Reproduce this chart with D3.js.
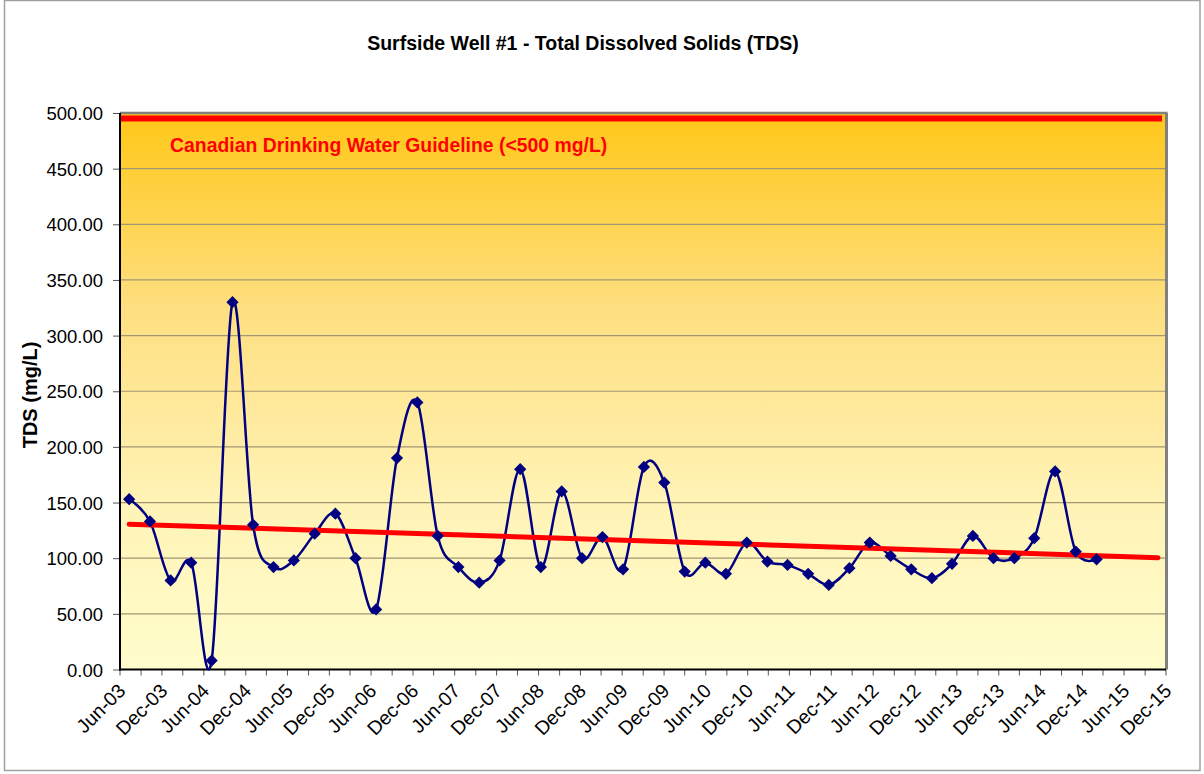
<!DOCTYPE html>
<meta charset="utf-8">
<title>Surfside Well #1 - TDS</title>
<style>
body { margin: 0; background: #fff; }
text { font-family: "Liberation Sans", Arial, sans-serif; }
</style>
<body>
<svg width="1204" height="774" id="svg"></svg>
<script src="https://d3js.org/d3.v7.min.js"></script>
<script>

// sample dates and TDS values (mg/L)
var sampleDates = [
  "2003-07-11", "2003-10-10", "2004-01-08", "2004-04-07", "2004-07-05", "2004-10-04",
  "2005-01-02", "2005-04-01", "2005-06-29", "2005-09-28", "2005-12-27", "2006-03-25",
  "2006-06-23", "2006-09-22", "2006-12-20", "2007-03-19", "2007-06-17", "2007-09-16",
  "2007-12-14", "2008-03-13", "2008-06-11", "2008-09-10", "2008-12-08", "2009-03-07",
  "2009-06-05", "2009-09-04", "2009-12-02", "2010-03-01", "2010-05-30", "2010-08-28",
  "2010-11-27", "2011-02-25", "2011-05-24", "2011-08-22", "2011-11-20", "2012-02-18",
  "2012-05-17", "2012-08-16", "2012-11-14", "2013-02-12", "2013-05-11", "2013-08-10",
  "2013-11-08", "2014-02-07", "2014-05-05", "2014-08-04", "2014-11-02", "2015-02-01"
];
var tdsValues = [
  153, 133, 80, 96, 8, 330,
  130, 92, 98, 122, 140, 100,
  54, 190, 240, 120, 92, 78,
  98, 180, 92, 160, 100, 119,
  90, 182, 168, 88, 96, 86,
  114, 97, 94, 86, 76, 91,
  114, 102, 90, 82, 95, 120,
  100, 100, 118, 178, 106, 99
];

// linear trend line (start / end)
var trendDates = ["2003-07-11", "2015-10-27"];
var trendValues = [130.5, 100.5];

var guidelineValue = 495;
var guidelineLabel = "Canadian Drinking Water Guideline (<500 mg/L)";
var yTicks = [0, 50, 100, 150, 200, 250, 300, 350, 400, 450, 500];

var parse = d3.timeParse("%Y-%m-%d");
var data = sampleDates.map(function(d, i) { return { date: parse(d), value: tdsValues[i] }; });
var trend = trendDates.map(function(d, i) { return { date: parse(d), value: trendValues[i] }; });

var svg = d3.select("svg"),
    plotL = 120, plotR = 1166, plotT = 113, plotB = 669.5;

var x = d3.scaleTime()
    .domain([new Date(2003, 5, 1), new Date(2015, 11, 1)])
    .range([plotL, plotR]);
var y = d3.scaleLinear().domain([0, 500]).range([plotB, plotT]);

// outer chart frame
svg.append("rect")
    .attr("x", 4.5).attr("y", 0.5)
    .attr("width", 1195.5).attr("height", 770)
    .attr("fill", "#fff").attr("stroke", "#a0a0a0").attr("stroke-width", 1.5);

// plot background gradient
var grad = svg.append("defs").append("linearGradient")
    .attr("id", "bg").attr("x1", 0).attr("y1", 0).attr("x2", 0).attr("y2", 1);
grad.append("stop").attr("offset", "0%").attr("stop-color", "#FFC717");
grad.append("stop").attr("offset", "35%").attr("stop-color", "#FEDF80");
grad.append("stop").attr("offset", "70%").attr("stop-color", "#FFF3B6");
grad.append("stop").attr("offset", "100%").attr("stop-color", "#FFFDCC");

svg.append("rect")
    .attr("x", plotL).attr("y", plotT)
    .attr("width", plotR - plotL).attr("height", plotB - plotT)
    .attr("fill", "url(#bg)");

// gridlines
svg.append("g").selectAll("line")
    .data(yTicks.slice(1, -1))
    .enter().append("line")
      .attr("x1", plotL).attr("x2", plotR)
      .attr("y1", function(d) { return y(d); })
      .attr("y2", function(d) { return y(d); })
      .attr("stroke", "#a39673").attr("stroke-width", 1.2);

// y axis
var yAxis = svg.append("g")
    .attr("transform", "translate(" + plotL + ",0)")
    .call(d3.axisLeft(y).tickValues(yTicks).tickFormat(d3.format(".2f")).tickSize(7).tickPadding(10));
yAxis.select(".domain").remove();
yAxis.selectAll("line").attr("stroke", "#555");
yAxis.selectAll("text").attr("font-size", 18.5).attr("fill", "#000").attr("dy", "0.36em");

// x axis: minor ticks every 3 months, labels every 6
var tickDates = d3.timeMonth.range(x.domain()[0], d3.timeMonth.offset(x.domain()[1], 1), 3);
var labelDates = d3.timeMonth.range(x.domain()[0], d3.timeMonth.offset(x.domain()[1], 1), 6);
var fmt = d3.timeFormat("%b-%y");

svg.append("g").selectAll("line")
    .data(tickDates)
    .enter().append("line")
      .attr("x1", function(d) { return x(d); })
      .attr("x2", function(d) { return x(d); })
      .attr("y1", plotB).attr("y2", plotB + 6)
      .attr("stroke", "#555");

svg.append("g").selectAll("text")
    .data(labelDates)
    .enter().append("text")
      .attr("transform", function(d) { return "translate(" + (x(d) - 3) + "," + (plotB + 13) + ") rotate(-45)"; })
      .attr("text-anchor", "end")
      .attr("dy", "0.7em")
      .attr("font-size", 19.5)
      .text(function(d) { return fmt(d); });

// plot frame: gray top/right, black left/bottom
svg.append("line").attr("x1", plotL).attr("x2", plotR + 1.5).attr("y1", plotT).attr("y2", plotT)
    .attr("stroke", "#808080").attr("stroke-width", 2.5);
svg.append("line").attr("x1", plotR + 0.5).attr("x2", plotR + 0.5).attr("y1", plotT).attr("y2", plotB)
    .attr("stroke", "#808080").attr("stroke-width", 3);
svg.append("line").attr("x1", plotL).attr("x2", plotL).attr("y1", plotT).attr("y2", plotB + 1)
    .attr("stroke", "#000").attr("stroke-width", 2);
svg.append("line").attr("x1", plotL - 1).attr("x2", plotR).attr("y1", plotB).attr("y2", plotB)
    .attr("stroke", "#000").attr("stroke-width", 2);

// guideline
svg.append("line")
    .attr("x1", plotL + 1).attr("x2", plotR - 4)
    .attr("y1", y(guidelineValue)).attr("y2", y(guidelineValue))
    .attr("stroke", "#ff0000").attr("stroke-width", 6);
svg.append("text")
    .attr("x", 170).attr("y", 152)
    .attr("font-size", 19.4).attr("font-weight", "bold").attr("fill", "#ff0000")
    .text(guidelineLabel);

// data line (smoothed)
var line = d3.line()
    .x(function(d) { return x(d.date); })
    .y(function(d) { return y(d.value); })
    .curve(d3.curveCatmullRom.alpha(0));

svg.append("path")
    .datum(data)
    .attr("d", line)
    .attr("fill", "none")
    .attr("stroke", "#000080")
    .attr("stroke-width", 2.5);

// trend line
svg.append("path")
    .datum(trend)
    .attr("d", d3.line().x(function(d) { return x(d.date); }).y(function(d) { return y(d.value); }))
    .attr("stroke", "#ff0000")
    .attr("stroke-width", 5)
    .attr("stroke-linecap", "round");

// markers
svg.append("g").selectAll("path")
    .data(data)
    .enter().append("path")
      .attr("d", d3.symbol().type(d3.symbolSquare).size(75))
      .attr("transform", function(d) { return "translate(" + x(d.date) + "," + y(d.value) + ") rotate(45)"; })
      .attr("fill", "#000080");

// titles
svg.append("text")
    .attr("x", 583).attr("y", 50)
    .attr("text-anchor", "middle")
    .attr("font-size", 19.5).attr("font-weight", "bold")
    .text("Surfside Well #1 - Total Dissolved Solids (TDS)");

svg.append("text")
    .attr("transform", "translate(37,395) rotate(-90)")
    .attr("text-anchor", "middle")
    .attr("font-size", 20).attr("font-weight", "bold")
    .text("TDS (mg/L)");

</script>
</body>
